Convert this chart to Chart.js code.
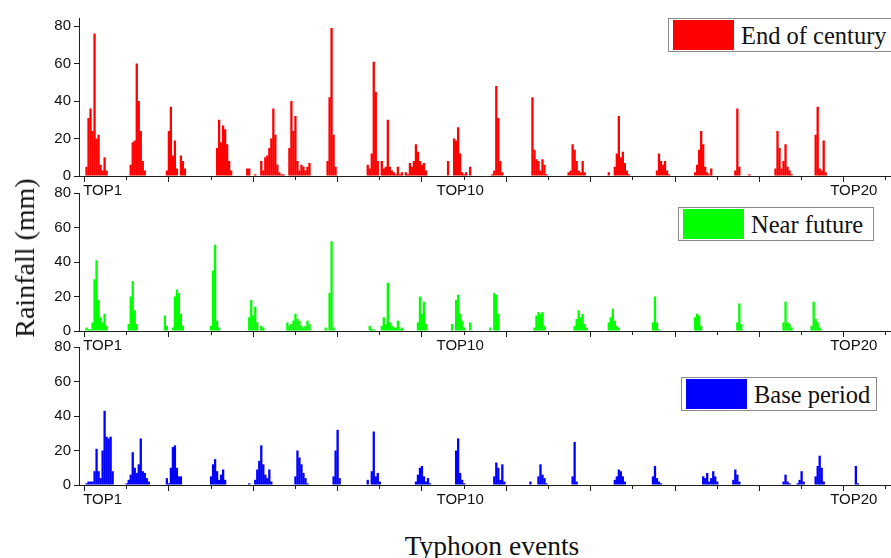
<!DOCTYPE html>
<html>
<head>
<meta charset="utf-8">
<title>Typhoon events rainfall</title>
<script src="https://cdn.jsdelivr.net/npm/chart.js@4.4.1/dist/chart.umd.min.js"></script>
<style>
  body { margin: 0; background: #fff; }
  #wrap { position: relative; width: 891px; height: 558px; overflow: hidden; background: #fff; }
  #wrap canvas { position: absolute; left: 0; }
  .legend { position: absolute; height: 34px; border: 1px solid #8a8a8a; background: #fff;
            box-sizing: border-box; display: flex; align-items: center;
            font-family: 'Liberation Serif', serif; font-size: 24.5px; color: #111; white-space: nowrap; }
  .legend .swatch { width: 61px; height: 30px; margin: 0 7px 0 4px; flex: none; }
  .legend span { position: relative; top: 1px; }
  #ytitle { position: absolute; left: 25px; top: 258px; transform: translate(-50%, -50%) rotate(-90deg);
            font-family: 'Liberation Serif', serif; font-size: 28px; color: #111; white-space: nowrap; }
  #xtitle { position: absolute; left: 492px; top: 532px; transform: translateX(-50%);
            font-family: 'Liberation Serif', serif; font-size: 27.5px; line-height: 27px; color: #111; white-space: nowrap; }
</style>
</head>
<body>
<div id="wrap">
  <canvas id="c1" width="891" height="205" style="top:0px"></canvas>
  <canvas id="c2" width="891" height="180" style="top:180px"></canvas>
  <canvas id="c3" width="891" height="180" style="top:334px"></canvas>
  <div id="ytitle">Rainfall (mm)</div>
  <div id="xtitle">Typhoon events</div>
</div>
<script>
// x unit = one time step; 21 steps between event ticks
// each entry: [first step, [rainfall mm per step ...]]
const endOfCentury = [
  [1, [5, 31, 36, 24, 76, 20, 22, 6, 3, 10, 3]],
  [23, [6, 18, 19, 60, 40, 24, 8, 3]],
  [41, [3, 24, 37, 11, 19, 4, 0, 11, 8, 4]],
  [66, [15, 30, 18, 27, 25, 17, 8, 3]],
  [81, [4, 4, 0, 0, 1]],
  [88, [8, 3, 10, 11, 15, 20, 36, 22, 6, 2, 1, 1]],
  [102, [15, 40, 24, 32, 8, 3, 6, 5, 3, 5, 7]],
  [121, [8, 42, 79, 22, 5]],
  [141, [6, 4, 12, 61, 45, 8, 0, 8, 4, 5, 30, 5, 3, 2, 1, 5, 1, 2]],
  [160, [2, 1, 7, 5, 8, 17, 13, 8, 6, 7, 3]],
  [181, [8, 0, 0, 20, 19, 26, 12, 2, 1, 2, 0, 5]],
  [203, [1, 3, 48, 31, 8, 2]],
  [223, [42, 14, 9, 8, 3, 9, 6, 1]],
  [241, [2, 3, 17, 14, 8, 3, 2, 8, 2]],
  [261, [2, 0, 0, 5, 12, 32, 10, 13, 7, 3, 1]],
  [285, [3, 12, 8, 6, 8, 3, 1]],
  [304, [2, 6, 14, 24, 17, 5, 2, 1, 4]],
  [324, [3, 36, 5, 0, 0, 0, 0, 1]],
  [344, [4, 24, 15, 4, 8, 17, 5, 3, 1]],
  [364, [22, 37, 4, 3, 19, 2]]
];

const nearFuture = [
  [1, [2, 1, 1, 5, 30, 41, 18, 8, 5, 10, 3]],
  [22, [4, 20, 29, 12, 4]],
  [40, [9, 3, 0, 0, 2, 20, 24, 22, 10, 3]],
  [63, [3, 35, 50, 6, 2]],
  [82, [8, 18, 9, 14, 5, 0, 3, 2]],
  [101, [5, 3, 4, 6, 10, 7, 6, 3, 2, 3, 6, 4]],
  [120, [2, 0, 22, 52, 2]],
  [142, [3, 1, 1, 0, 0, 0, 3, 8, 4, 28, 5, 3, 2, 2, 6, 1, 2]],
  [166, [5, 20, 10, 17, 4]],
  [183, [4, 0, 18, 21, 10, 6, 2, 0, 0, 5]],
  [202, [2, 0, 22, 21, 10]],
  [224, [2, 9, 11, 10, 11, 3]],
  [244, [3, 7, 12, 8, 10, 4, 2]],
  [261, [5, 8, 13, 6, 3, 2]],
  [283, [5, 20, 5, 1]],
  [304, [8, 10, 9, 3]],
  [325, [5, 16, 4]],
  [348, [5, 17, 5, 4, 2]],
  [362, [3, 17, 7, 5, 2]]
];

const basePeriod = [
  [1, [1, 2, 2, 2, 8, 21, 8, 4, 20, 43, 28, 27, 28, 8]],
  [21, [1, 3, 6, 19, 10, 7, 12, 27, 8, 7, 4, 2]],
  [41, [4, 1, 10, 22, 23, 10, 5, 5]],
  [63, [5, 12, 15, 8, 3, 6, 9, 3]],
  [82, [1]],
  [85, [3, 9, 14, 23, 12, 6, 4, 9, 2]],
  [105, [5, 20, 16, 12, 7, 4, 1]],
  [124, [5, 20, 32, 4]],
  [141, [3, 0, 8, 31, 5, 7, 2]],
  [165, [2, 6, 10, 11, 5, 2, 4, 1]],
  [185, [20, 27, 7, 3, 1]],
  [204, [5, 13, 10, 3, 12, 2]],
  [222, [2, 0, 0, 0, 5, 12, 6, 4, 1]],
  [243, [5, 25, 2]],
  [264, [3, 5, 9, 8, 5, 2]],
  [283, [5, 11, 4, 2, 1]],
  [308, [5, 4, 7, 2, 4, 8, 5, 2]],
  [323, [3, 9, 6, 2]],
  [348, [2, 6, 2, 1, 0, 0, 0, 1, 3, 8, 2]],
  [364, [5, 11, 17, 10, 2]],
  [384, [11, 1]]
];

const eventLabels = ['TOP1', 'TOP10', 'TOP20'];
const eventLabelAt = [9, 187, 383];
const yTicks = [0, 10, 20, 30, 40, 50, 60, 70, 80];

const seriesNames = ['End of century', 'Near future', 'Base period'];
const seriesColors = ['#ff0000', '#00ff00', '#0000ff'];

const X_MIN = -2.75, X_MAX = 401.5;
const AXIS = '#1e1e1e';
const tickFont = { family: "'Liberation Sans', Arial, sans-serif", size: 15 };

function toPoints(clusters) {
  const pts = [];
  clusters.forEach(([start, vals]) => {
    vals.forEach((v, i) => pts.push({ x: start + i, y: v }));
  });
  return pts;
}

function makePanel(id, clusters, idx, yMax, padTop, xAxisHeight) {
  const ctx = document.getElementById(id);
  return new Chart(ctx, {
    type: 'bar',
    data: {
      datasets: [{
        label: seriesNames[idx],
        data: toPoints(clusters),
        backgroundColor: seriesColors[idx],
        borderWidth: 0,
        barThickness: 2.3,
        inflateAmount: 0
      }]
    },
    options: {
      responsive: false,
      animation: false,
      events: [],
      layout: { padding: { top: padTop, left: 0, right: 0, bottom: 0 } },
      plugins: { legend: { display: false }, tooltip: { enabled: false } },
      scales: {
        x: {
          type: 'linear',
          min: X_MIN,
          max: X_MAX,
          offset: false,
          afterBuildTicks: s => {
            const t = [];
            for (let v = 0; v <= 399; v += 21) t.push(v);
            eventLabelAt.forEach(v => t.push(v));
            t.sort((a, b) => a - b);
            s.ticks = t.map(v => ({ value: v }));
          },
          afterFit: s => { s.height = xAxisHeight; },
          grid: {
            offset: false,
            drawOnChartArea: false,
            tickLength: 6,
            tickWidth: 1,
            tickColor: c => (c.tick && eventLabelAt.includes(c.tick.value)) ? 'rgba(0,0,0,0)' : AXIS,
            tickBorderDash: c => (c.tick && c.tick.value % 42 !== 0) ? [3, 10] : []
          },
          border: { color: AXIS, width: 1 },
          ticks: {
            autoSkip: false,
            maxRotation: 0,
            padding: 0,
            color: '#111',
            font: tickFont,
            callback: v => {
              const i = eventLabelAt.indexOf(v);
              return i >= 0 ? eventLabels[i] : '';
            }
          }
        },
        y: {
          min: 0,
          max: yMax,
          afterBuildTicks: s => { s.ticks = yTicks.map(v => ({ value: v })); },
          afterFit: s => { s.width = 79; },
          grid: {
            drawOnChartArea: false,
            tickLength: 5,
            tickWidth: 1,
            tickColor: AXIS,
            tickBorderDash: c => (c.tick && c.tick.value % 20 !== 0) ? [3, 2] : [],
            tickBorderDashOffset: c => (c.tick && c.tick.value % 20 !== 0) ? 3 : 0
          },
          border: { color: AXIS, width: 1 },
          ticks: {
            padding: 3,
            color: '#111',
            font: tickFont,
            callback: v => (v % 20 === 0 ? v : '')
          }
        }
      }
    }
  });
}

makePanel('c1', endOfCentury, 0, 84, 18.5, 29);
makePanel('c2', nearFuture, 1, 80, 13, 29);
makePanel('c3', basePeriod, 2, 80, 13, 29);

// legend boxes, top right of each panel
const legendBoxes = [
  { left: 668, top: 18, width: 240 },
  { left: 678, top: 207, width: 196 },
  { left: 681, top: 377, width: 196 }
];
legendBoxes.forEach((b, i) => {
  const el = document.createElement('div');
  el.className = 'legend';
  el.style.left = b.left + 'px';
  el.style.top = b.top + 'px';
  el.style.width = b.width + 'px';
  const sw = document.createElement('div');
  sw.className = 'swatch';
  sw.style.background = seriesColors[i];
  const tx = document.createElement('span');
  tx.textContent = seriesNames[i];
  el.appendChild(sw);
  el.appendChild(tx);
  document.getElementById('wrap').appendChild(el);
});
</script>
</body>
</html>
